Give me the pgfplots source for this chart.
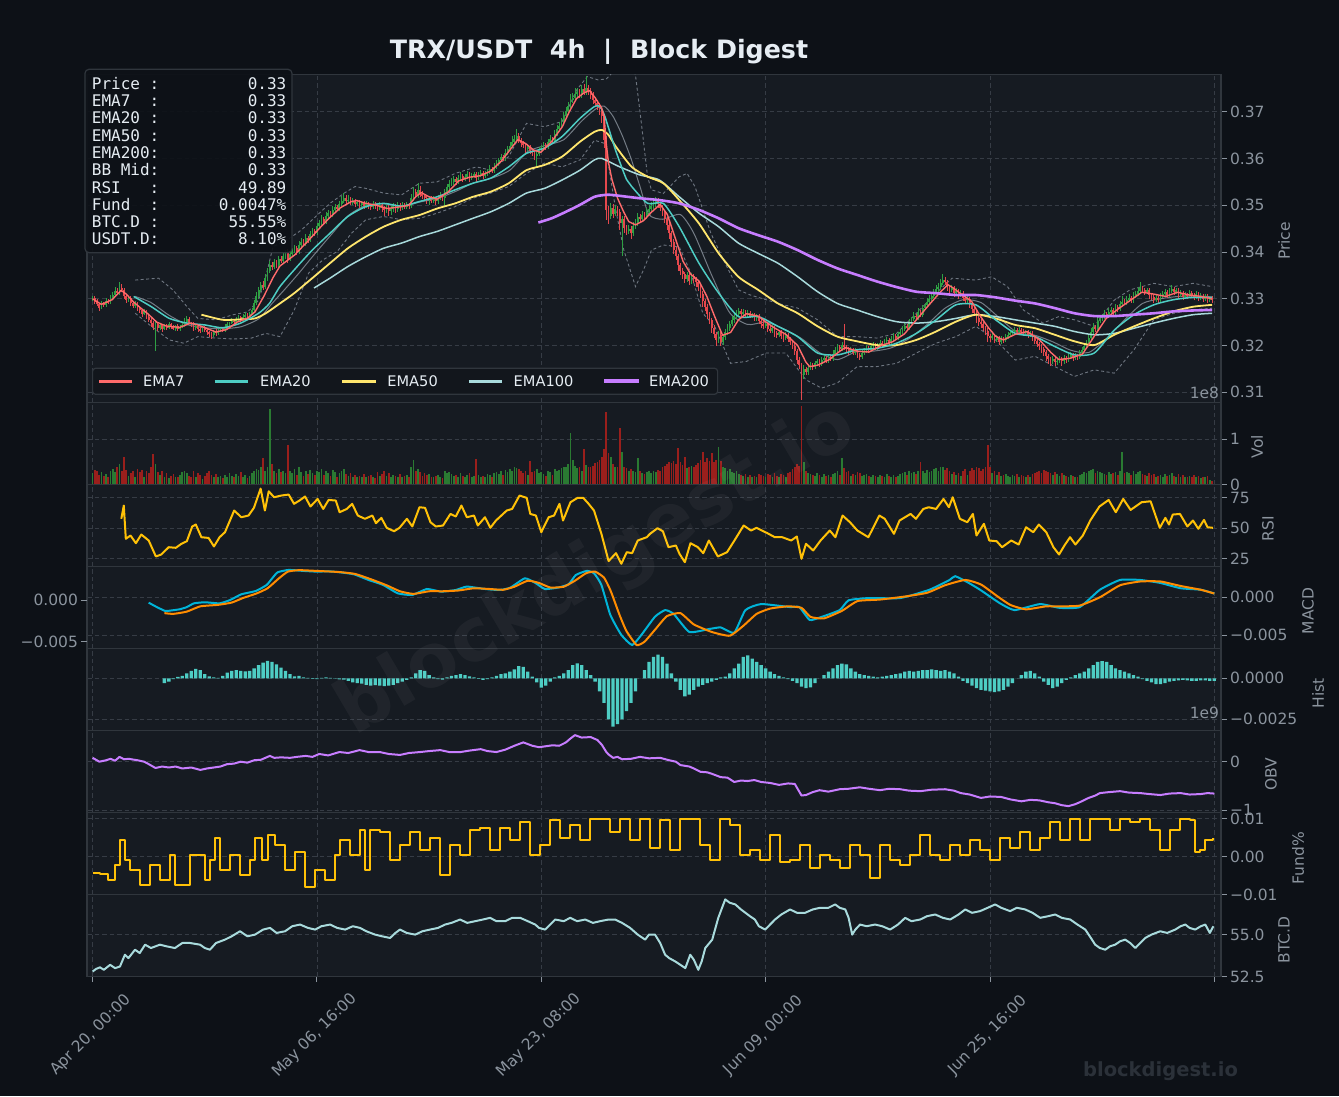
\documentclass[border=0pt]{standalone}
\usepackage{pgfplots}
\usepackage{pgfplotstable}
\pgfplotsset{compat=1.18}
\usepackage{fontspec}
\setmainfont{DejaVu Sans}
\newfontfamily\monofont{DejaVu Sans Mono}
\definecolor{figbg}{HTML}{0D1117}
\definecolor{panelbg}{HTML}{161B22}
\definecolor{spine}{HTML}{30363D}
\definecolor{gridc}{HTML}{363C45}
\definecolor{tickc}{HTML}{8B949E}
\definecolor{titlec}{HTML}{E6EDF3}
\definecolor{ema7}{HTML}{FF6B6B}
\definecolor{ema20}{HTML}{4ECDC4}
\definecolor{ema50}{HTML}{FFE66D}
\definecolor{ema100}{HTML}{A8DADC}
\definecolor{ema200}{HTML}{C77DFF}
\definecolor{bbc}{HTML}{6E7681}
\definecolor{upc}{HTML}{2EA043}
\definecolor{dnc}{HTML}{E5484D}
\definecolor{volup}{HTML}{2A7A32}
\definecolor{voldn}{HTML}{9A1F1C}
\definecolor{rsic}{HTML}{FFC107}
\definecolor{macdc}{HTML}{00B4D8}
\definecolor{sigc}{HTML}{FF8C00}
\definecolor{histc}{HTML}{4ECDC4}
\definecolor{boxbg}{HTML}{0D1117}
\definecolor{legbg}{HTML}{12161C}
\definecolor{brand}{HTML}{2B3139}
\newcommand\tickfont{\fontsize{15.5pt}{18pt}\selectfont}

\pgfplotstableread[row sep=\\]{
c u l v\\
0.3302 3 4 25\\ 0.3294 2 3 32\\ 0.3288 4 2 30\\ 0.3281 2 5 22\\ 0.3290 3 2 28\\
0.3286 2 3 20\\ 0.3296 4 2 24\\ 0.3292 3 2 18\\ 0.3301 5 2 30\\ 0.3308 4 3 35\\
0.3316 6 2 28\\ 0.3312 4 3 38\\ 0.3324 8 2 45\\ 0.3318 5 3 30\\ 0.3305 3 4 61\\
0.3298 3 4 33\\ 0.3302 2 3 20\\ 0.3290 3 4 26\\ 0.3284 2 3 30\\ 0.3290 3 2 18\\
0.3280 2 4 35\\ 0.3275 3 3 28\\ 0.3268 2 4 33\\ 0.3274 3 2 16\\ 0.3262 2 4 30\\
0.3255 3 3 25\\ 0.3248 2 6 40\\ 0.3240 3 5 68\\ 0.3246 4 34 45\\ 0.3238 3 5 28\\
0.3244 3 3 22\\ 0.3236 2 4 30\\ 0.3242 3 2 18\\ 0.3238 2 3 25\\ 0.3245 3 2 14\\
0.3240 2 3 20\\ 0.3236 3 2 24\\ 0.3241 2 3 18\\ 0.3235 3 2 16\\ 0.3240 2 3 22\\
0.3243 3 2 28\\ 0.3250 6 2 30\\ 0.3256 5 3 25\\ 0.3248 3 2 20\\ 0.3245 2 3 18\\
0.3238 3 4 30\\ 0.3242 2 3 16\\ 0.3236 3 4 26\\ 0.3232 2 3 22\\ 0.3238 3 2 12\\
0.3234 2 3 20\\ 0.3228 3 4 25\\ 0.3225 2 4 30\\ 0.3222 3 5 22\\ 0.3230 2 3 18\\
0.3226 3 4 24\\ 0.3232 2 3 16\\ 0.3236 3 2 20\\ 0.3233 2 3 14\\ 0.3240 4 2 22\\
0.3245 3 2 18\\ 0.3248 2 3 25\\ 0.3252 4 2 20\\ 0.3250 3 3 16\\ 0.3256 4 2 24\\
0.3260 3 2 20\\ 0.3255 2 3 28\\ 0.3262 3 2 18\\ 0.3265 4 3 22\\ 0.3260 3 2 15\\
0.3268 3 2 20\\ 0.3275 4 2 26\\ 0.3290 5 3 30\\ 0.3305 6 2 35\\ 0.3318 5 3 32\\
0.3330 4 3 40\\ 0.3325 6 4 58\\ 0.3345 5 3 30\\ 0.3360 4 4 38\\ 0.3372 6 3 166\\
0.3368 4 5 45\\ 0.3378 5 3 30\\ 0.3372 3 4 25\\ 0.3385 5 3 35\\ 0.3380 4 3 28\\
0.3392 5 3 30\\ 0.3398 4 4 25\\ 0.3385 5 6 88\\ 0.3396 4 3 30\\ 0.3402 5 3 26\\
0.3408 4 3 35\\ 0.3400 3 4 22\\ 0.3414 6 3 40\\ 0.3422 5 3 28\\ 0.3418 4 3 20\\
0.3430 5 4 30\\ 0.3426 3 4 24\\ 0.3438 5 3 32\\ 0.3445 4 3 26\\ 0.3440 3 4 22\\
0.3455 5 3 30\\ 0.3462 4 3 28\\ 0.3470 6 3 35\\ 0.3465 3 4 22\\ 0.3478 5 3 30\\
0.3484 4 3 26\\ 0.3480 3 4 20\\ 0.3490 5 3 32\\ 0.3496 4 4 28\\ 0.3492 3 3 18\\
0.3502 5 3 26\\ 0.3510 6 3 30\\ 0.3515 8 4 35\\ 0.3508 5 3 24\\ 0.3512 6 4 20\\
0.3505 4 3 26\\ 0.3509 5 3 18\\ 0.3502 3 4 22\\ 0.3506 4 3 16\\ 0.3500 3 4 20\\
0.3504 3 3 18\\ 0.3498 3 4 24\\ 0.3503 4 3 16\\ 0.3500 3 5 20\\ 0.3496 2 4 22\\
0.3502 4 3 18\\ 0.3499 3 4 15\\ 0.3495 3 5 28\\ 0.3500 4 3 20\\ 0.3494 3 6 24\\
0.3490 3 8 30\\ 0.3495 4 5 20\\ 0.3488 3 8 26\\ 0.3493 4 6 18\\ 0.3498 4 5 22\\
0.3492 3 6 20\\ 0.3500 4 4 16\\ 0.3496 3 5 24\\ 0.3501 4 4 18\\ 0.3497 3 4 20\\
0.3500 4 3 22\\ 0.3498 3 4 18\\ 0.3515 6 3 40\\ 0.3528 8 4 55\\ 0.3522 5 5 30\\
0.3532 10 4 35\\ 0.3525 6 5 28\\ 0.3520 4 4 20\\ 0.3516 3 5 26\\ 0.3512 4 6 22\\
0.3515 3 8 24\\ 0.3510 3 4 18\\ 0.3513 4 3 16\\ 0.3508 3 5 20\\ 0.3516 4 3 22\\
0.3520 5 3 18\\ 0.3515 3 4 15\\ 0.3528 5 12 30\\ 0.3538 5 3 26\\ 0.3545 6 3 28\\
0.3550 5 3 24\\ 0.3556 4 4 20\\ 0.3550 3 4 22\\ 0.3558 5 3 18\\ 0.3563 6 3 26\\
0.3556 3 4 20\\ 0.3561 4 3 16\\ 0.3566 5 3 22\\ 0.3558 3 5 25\\ 0.3562 4 3 18\\
0.3566 4 3 20\\ 0.3558 3 5 56\\ 0.3565 4 3 22\\ 0.3569 4 3 18\\ 0.3563 3 4 20\\
0.3568 4 3 16\\ 0.3572 4 3 24\\ 0.3578 5 3 22\\ 0.3574 3 4 18\\ 0.3582 5 3 26\\
0.3590 4 3 28\\ 0.3596 4 4 24\\ 0.3603 5 3 30\\ 0.3600 3 4 22\\ 0.3612 5 3 32\\
0.3620 5 3 28\\ 0.3626 6 3 35\\ 0.3635 8 3 30\\ 0.3642 6 4 40\\ 0.3648 10 4 36\\
0.3640 4 5 34\\ 0.3632 3 5 30\\ 0.3628 4 4 26\\ 0.3620 3 5 30\\ 0.3625 4 3 22\\
0.3616 3 5 52\\ 0.3612 3 4 28\\ 0.3605 3 6 30\\ 0.3610 4 14 35\\ 0.3618 4 3 26\\
0.3622 4 3 28\\ 0.3628 5 3 24\\ 0.3624 3 4 20\\ 0.3635 5 3 30\\ 0.3642 5 3 28\\
0.3638 3 4 22\\ 0.3652 6 3 34\\ 0.3662 6 3 30\\ 0.3670 5 4 32\\ 0.3678 6 3 36\\
0.3690 6 3 40\\ 0.3702 5 4 38\\ 0.3712 6 3 45\\ 0.3725 8 3 113\\ 0.3730 6 4 55\\
0.3738 8 4 42\\ 0.3742 6 5 36\\ 0.3735 5 4 40\\ 0.3748 6 4 30\\ 0.3742 8 4 78\\
0.3750 17 4 44\\ 0.3744 5 5 40\\ 0.3736 4 6 38\\ 0.3725 4 6 42\\ 0.3718 4 6 47\\
0.3712 5 6 50\\ 0.3705 5 8 55\\ 0.3690 4 10 62\\ 0.3640 4 12 78\\ 0.3490 5 15 160\\
0.3478 5 12 70\\ 0.3495 6 5 62\\ 0.3482 5 6 45\\ 0.3492 6 4 40\\ 0.3486 4 6 38\\
0.3462 4 10 124\\ 0.3470 5 47 71\\ 0.3452 4 8 40\\ 0.3445 4 6 36\\ 0.3450 5 5 30\\
0.3440 4 8 34\\ 0.3455 6 4 30\\ 0.3462 5 4 28\\ 0.3475 6 4 58\\ 0.3470 4 5 30\\
0.3480 5 4 26\\ 0.3476 4 5 24\\ 0.3486 5 4 28\\ 0.3492 5 4 30\\ 0.3498 6 3 26\\
0.3503 6 4 30\\ 0.3510 5 4 28\\ 0.3502 4 5 32\\ 0.3495 3 5 30\\ 0.3485 4 6 40\\
0.3470 3 6 42\\ 0.3458 3 8 45\\ 0.3440 4 8 50\\ 0.3422 3 8 48\\ 0.3405 4 6 52\\
0.3392 4 6 46\\ 0.3372 3 8 80\\ 0.3360 3 6 50\\ 0.3352 4 6 44\\ 0.3342 3 6 60\\
0.3350 5 4 36\\ 0.3338 3 6 40\\ 0.3348 5 4 42\\ 0.3342 4 5 38\\ 0.3335 3 6 44\\
0.3325 3 6 48\\ 0.3310 3 6 55\\ 0.3295 4 8 73\\ 0.3282 3 6 50\\ 0.3268 4 8 58\\
0.3255 3 6 52\\ 0.3238 3 8 69\\ 0.3225 4 6 50\\ 0.3212 3 8 55\\ 0.3222 6 4 84\\
0.3208 4 6 52\\ 0.3218 5 4 40\\ 0.3228 5 4 36\\ 0.3238 5 3 30\\ 0.3246 4 4 34\\
0.3255 5 3 28\\ 0.3262 4 4 26\\ 0.3268 5 3 30\\ 0.3274 4 4 24\\ 0.3268 3 5 22\\
0.3272 4 3 20\\ 0.3266 3 4 24\\ 0.3270 4 3 18\\ 0.3264 3 4 22\\ 0.3266 3 3 16\\
0.3258 3 4 20\\ 0.3262 3 3 18\\ 0.3252 3 4 24\\ 0.3246 3 5 22\\ 0.3242 4 4 20\\
0.3245 4 3 18\\ 0.3236 3 5 24\\ 0.3232 4 4 22\\ 0.3238 4 3 16\\ 0.3226 3 5 26\\
0.3222 3 4 20\\ 0.3228 4 3 18\\ 0.3220 3 4 24\\ 0.3216 3 5 22\\ 0.3222 4 3 16\\
0.3214 3 4 26\\ 0.3208 3 5 28\\ 0.3200 3 5 34\\ 0.3188 3 6 40\\ 0.3170 3 6 45\\
0.3158 3 6 42\\ 0.3138 3 36 173\\ 0.3150 5 6 51\\ 0.3144 3 5 30\\ 0.3152 4 4 26\\
0.3158 4 3 24\\ 0.3154 3 4 22\\ 0.3162 4 3 20\\ 0.3166 4 3 26\\ 0.3160 3 4 22\\
0.3170 4 3 18\\ 0.3174 4 3 24\\ 0.3168 3 4 20\\ 0.3176 4 3 22\\ 0.3172 3 4 18\\
0.3182 5 3 24\\ 0.3190 4 3 26\\ 0.3196 5 3 30\\ 0.3192 3 4 22\\ 0.3201 4 3 58\\
0.3196 30 4 36\\ 0.3193 3 4 28\\ 0.3188 3 5 30\\ 0.3191 4 3 20\\ 0.3185 3 4 24\\
0.3188 4 3 22\\ 0.3180 3 5 28\\ 0.3176 3 5 26\\ 0.3184 4 3 20\\ 0.3188 4 3 22\\
0.3194 5 3 24\\ 0.3190 3 4 20\\ 0.3198 4 3 18\\ 0.3202 4 3 22\\ 0.3196 3 4 20\\
0.3200 4 3 18\\ 0.3206 4 3 22\\ 0.3202 3 4 20\\ 0.3209 4 3 16\\ 0.3212 4 3 24\\
0.3206 3 4 20\\ 0.3215 4 3 18\\ 0.3220 4 3 22\\ 0.3217 3 4 16\\ 0.3224 4 3 20\\
0.3230 4 3 24\\ 0.3236 4 3 26\\ 0.3242 5 3 28\\ 0.3238 3 4 22\\ 0.3250 5 3 30\\
0.3256 4 3 26\\ 0.3264 5 3 28\\ 0.3260 3 4 24\\ 0.3272 5 3 30\\ 0.3266 3 4 51\\
0.3280 5 3 30\\ 0.3286 4 3 26\\ 0.3294 5 3 32\\ 0.3300 5 3 28\\ 0.3306 4 4 30\\
0.3314 5 3 34\\ 0.3320 6 3 36\\ 0.3326 5 4 30\\ 0.3334 6 3 40\\ 0.3340 8 3 38\\
0.3336 5 4 32\\ 0.3325 3 5 36\\ 0.3318 3 4 30\\ 0.3322 5 3 24\\ 0.3312 3 5 28\\
0.3316 4 3 22\\ 0.3308 3 5 26\\ 0.3312 4 3 20\\ 0.3302 3 5 30\\ 0.3296 3 5 34\\
0.3300 4 3 22\\ 0.3288 3 5 30\\ 0.3278 3 6 36\\ 0.3270 3 5 32\\ 0.3258 3 6 40\\
0.3250 3 5 36\\ 0.3245 4 5 30\\ 0.3238 3 5 34\\ 0.3232 3 6 38\\ 0.3220 3 8 88\\
0.3216 3 5 40\\ 0.3220 4 3 26\\ 0.3212 3 5 30\\ 0.3216 4 3 22\\ 0.3208 3 5 28\\
0.3214 4 3 20\\ 0.3212 3 4 22\\ 0.3218 4 3 24\\ 0.3222 4 3 20\\ 0.3226 4 3 18\\
0.3230 4 3 22\\ 0.3234 4 3 20\\ 0.3228 3 4 24\\ 0.3234 4 3 18\\ 0.3230 3 4 22\\
0.3226 3 4 20\\ 0.3228 4 3 16\\ 0.3222 3 4 22\\ 0.3226 4 3 18\\ 0.3218 3 5 24\\
0.3210 3 5 26\\ 0.3204 3 5 28\\ 0.3198 3 5 30\\ 0.3192 3 6 26\\ 0.3186 3 6 32\\
0.3178 3 8 30\\ 0.3172 3 8 28\\ 0.3168 3 8 26\\ 0.3172 4 5 22\\ 0.3165 3 6 28\\
0.3168 4 5 24\\ 0.3172 4 4 20\\ 0.3166 3 6 26\\ 0.3174 4 4 22\\ 0.3170 3 5 20\\
0.3176 4 3 18\\ 0.3180 4 3 22\\ 0.3174 3 5 20\\ 0.3178 4 3 18\\ 0.3175 3 4 16\\
0.3184 4 3 22\\ 0.3190 4 3 24\\ 0.3198 5 3 28\\ 0.3205 5 3 26\\ 0.3216 6 3 30\\
0.3228 6 3 32\\ 0.3240 6 3 34\\ 0.3236 3 4 26\\ 0.3252 6 3 30\\ 0.3258 5 3 28\\
0.3262 4 4 26\\ 0.3268 5 3 24\\ 0.3264 3 4 22\\ 0.3272 5 3 28\\ 0.3276 4 3 24\\
0.3270 3 5 26\\ 0.3282 5 3 28\\ 0.3278 3 4 22\\ 0.3288 5 3 30\\ 0.3294 8 3 72\\
0.3292 4 4 26\\ 0.3298 5 3 28\\ 0.3302 5 3 26\\ 0.3296 3 4 22\\ 0.3306 5 3 30\\
0.3310 5 3 24\\ 0.3316 6 3 28\\ 0.3322 9 3 30\\ 0.3318 4 4 24\\ 0.3314 3 4 22\\
0.3318 4 3 20\\ 0.3308 3 5 26\\ 0.3304 3 4 22\\ 0.3298 3 5 24\\ 0.3302 4 3 18\\
0.3298 3 4 20\\ 0.3306 4 3 22\\ 0.3310 4 3 18\\ 0.3314 5 3 24\\ 0.3308 3 4 20\\
0.3316 5 3 22\\ 0.3320 6 3 26\\ 0.3314 3 4 20\\ 0.3318 4 3 18\\ 0.3308 3 5 24\\
0.3312 4 3 16\\ 0.3304 3 5 22\\ 0.3308 4 3 18\\ 0.3306 3 4 16\\ 0.3312 4 3 20\\
0.3308 3 4 18\\ 0.3304 3 4 22\\ 0.3310 4 3 16\\ 0.3302 3 5 20\\ 0.3306 4 3 14\\
0.3300 3 4 18\\ 0.3305 4 3 16\\ 0.3298 3 5 20\\ 0.3302 3 3 10\\ 0.3297 3 4 8\\
}\candles
\pgfplotstablecreatecol[create col/expr={\pgfplotstablerow}]{x}\candles
\pgfplotstablecreatecol[
  create col/assign first/.code={\getthisrow{c}\myv\pgfkeyslet{/pgfplots/table/create col/next content}\myv},
  create col/assign/.code={\getprevrow{c}\myv\pgfkeyslet{/pgfplots/table/create col/next content}\myv}
]{o}\candles

\pgfplotsset{
  panel/.style={
    scale only axis, width=1134pt, height=82pt, anchor=south west,
    xmin=-2.5, xmax=503,
    axis background/.style={fill=panelbg},
    axis line style={draw=spine, line width=1.1pt},
    xtick={0,100,200,300,400,500}, xticklabels={,,,,,},
    xmajorgrids=true, ymajorgrids=true,
    major grid style={draw=gridc, dash pattern=on 4.5pt off 3pt, line width=0.8pt},
    xtick pos=left, ytick pos=right, yticklabel pos=right,
    tick align=outside, major tick length=5.5pt,
    tick style={draw=tickc, line width=0.9pt},
    x tick style={draw=none},
    yticklabel style={font=\tickfont, text=tickc},
    scaled y ticks=false, scaled x ticks=false,
  },
}

\begin{document}
\begin{tikzpicture}[x=1pt,y=1pt]
\useasboundingbox (0,0) rectangle (1339,1096);
\fill[figbg] (0,0) rectangle (1339,1096);

% ---------------- PRICE ----------------
\begin{axis}[panel, at={(87pt,693.3pt)}, height=328pt, ymin=0.30778, ymax=0.37791,
  ytick={0.31,0.32,0.33,0.34,0.35,0.36,0.37}, yticklabels={0.31,0.32,0.33,0.34,0.35,0.36,0.37}]
% Bollinger bands
\addplot[bbc, line width=0.9pt, dash pattern=on 3pt off 2.5pt] coordinates {
(19,0.3340)(24,0.3342)(29.4,0.3344)(35.8,0.3319)(42.1,0.3283)(46.9,0.3258)(54.9,0.3255)(62.8,0.3266)(69.2,0.3272)(74,0.3297)(77.2,0.3347)(80.4,0.3411)(86.7,0.3426)(93.1,0.3447)(99.5,0.3476)(105.8,0.3504)(112.2,0.3526)(117,0.3540)(121.8,0.3536)(129.7,0.3526)(137.7,0.3522)(145.7,0.3547)(153.6,0.3550)(161.6,0.3568)(171.1,0.3582)(177.5,0.3575)(185.5,0.3604)(193.4,0.3675)(201.4,0.3668)(209.3,0.3679)(215.7,0.3746)(220.5,0.3775)(225.3,0.3768)(229,0.3770)(233,0.3790)(237,0.3820)(240,0.3810)(242,0.3778)(244.5,0.3680)(247.4,0.3560)(249.1,0.3533)(254.4,0.3525)(261.5,0.3561)(265,0.3568)(268.5,0.3540)(275.6,0.3440)(280.8,0.3387)(287.9,0.3319)(293.2,0.3308)(300.2,0.3298)(305.5,0.3290)(314.3,0.3280)(323.2,0.3255)(332,0.3219)(340.8,0.3219)(349.6,0.3216)(358.4,0.3226)(367.2,0.3269)(376,0.3312)(383.1,0.3344)(393.7,0.3340)(400.8,0.3347)(407.8,0.3326)(414.9,0.3276)(423.6,0.3248)(430.7,0.3262)(437.7,0.3255)(446.5,0.3241)(455.4,0.3297)(462.4,0.3319)(473,0.3333)(481.8,0.3326)(490.6,0.3333)(499,0.3326)};
\addplot[bbc, line width=0.9pt, dash pattern=on 3pt off 2.5pt] coordinates {
(19,0.3269)(26.2,0.3241)(34.2,0.3212)(40.6,0.3205)(46.9,0.3219)(54.9,0.3216)(62.8,0.3214)(70.8,0.3216)(77.2,0.3226)(83.5,0.3219)(89.9,0.3276)(96.3,0.3355)(102.6,0.3383)(109,0.3401)(115.4,0.3440)(121.8,0.3469)(129.7,0.3476)(137.7,0.3469)(145.7,0.3472)(153.6,0.3483)(161.6,0.3497)(169.5,0.3515)(177.5,0.3526)(185.5,0.3540)(193.4,0.3568)(201.4,0.3590)(209.3,0.3582)(217.3,0.3597)(223.7,0.3639)(228.4,0.3632)(233.2,0.3490)(236.8,0.3404)(242,0.3326)(245.6,0.3362)(249.1,0.3404)(254.4,0.3415)(261.5,0.3411)(266.7,0.3355)(272,0.3269)(277.3,0.3241)(284.4,0.3162)(291.4,0.3166)(300.2,0.3184)(309,0.3184)(317.9,0.3127)(324.9,0.3109)(332,0.3120)(340.8,0.3155)(349.6,0.3155)(358.4,0.3162)(367.2,0.3184)(376,0.3205)(384.8,0.3219)(393.7,0.3241)(402.5,0.3212)(411.3,0.3169)(420.1,0.3177)(428.9,0.3155)(437.7,0.3134)(446.5,0.3148)(455.4,0.3141)(464.2,0.3191)(473,0.3255)(481.8,0.3269)(490.6,0.3276)(499,0.3280)};
\addplot[tickc, opacity=0.8, line width=1pt, smooth, tension=0.4] coordinates {
(19,0.3305)(26,0.3292)(34,0.3265)(42,0.3245)(50,0.3238)(58,0.3236)(66,0.3240)(74,0.3257)(80,0.3290)(86,0.3322)(92,0.3355)(98,0.3390)(106,0.3435)(114,0.3478)(122,0.3500)(130,0.3503)(138,0.3497)(146,0.3507)(154,0.3515)(162,0.3530)(170,0.3548)(178,0.3558)(186,0.3575)(194,0.3615)(202,0.3628)(210,0.3640)(218,0.3680)(224,0.3705)(228,0.3712)(232,0.3690)(236,0.3650)(240,0.3600)(244,0.3540)(248,0.3480)(254,0.3470)(262,0.3480)(268,0.3440)(276,0.3350)(284,0.3270)(292,0.3245)(300,0.3250)(308,0.3236)(316,0.3215)(324,0.3185)(332,0.3170)(340,0.3186)(348,0.3188)(356,0.3195)(364,0.3215)(372,0.3245)(380,0.3280)(388,0.3298)(396,0.3292)(404,0.3260)(412,0.3228)(420,0.3222)(428,0.3208)(436,0.3190)(444,0.3185)(452,0.3215)(460,0.3255)(468,0.3290)(476,0.3300)(484,0.3305)(492,0.3306)(499,0.3304)};
% candles: wicks
\addplot[draw=none, mark=none, forget plot,
  restrict expr to domain={\thisrow{c}-\thisrow{o}}{0:1},
  error bars/.cd, y dir=both, y explicit, error mark=none,
  error bar style={draw=upc, line width=0.75pt}]
  table[x=x, y=c, y error plus expr={\thisrow{u}*0.00015},
    y error minus expr={\thisrow{c}-\thisrow{o}+\thisrow{l}*0.00015}] {\candles};
\addplot[draw=none, mark=none, forget plot,
  restrict expr to domain={\thisrow{c}-\thisrow{o}}{-1:-0.00001},
  error bars/.cd, y dir=both, y explicit, error mark=none,
  error bar style={draw=dnc, line width=0.75pt}]
  table[x=x, y=c, y error plus expr={\thisrow{o}-\thisrow{c}+\thisrow{u}*0.00015},
    y error minus expr={\thisrow{l}*0.00015}] {\candles};
% candles: bodies
\addplot[draw=none, mark=none, forget plot,
  restrict expr to domain={\thisrow{c}-\thisrow{o}}{0:1},
  error bars/.cd, y dir=both, y explicit, error mark=none,
  error bar style={draw=upc, line width=1.8pt}]
  table[x=x, y=c, y error plus expr={0},
    y error minus expr={\thisrow{c}-\thisrow{o}}] {\candles};
\addplot[draw=none, mark=none, forget plot,
  restrict expr to domain={\thisrow{c}-\thisrow{o}}{-1:-0.00001},
  error bars/.cd, y dir=both, y explicit, error mark=none,
  error bar style={draw=dnc, line width=1.8pt}]
  table[x=x, y=c, y error plus expr={\thisrow{o}-\thisrow{c}},
    y error minus expr={0}] {\candles};
% EMAs
\addplot[ema100, line width=1.5pt, smooth, tension=0.4] coordinates {
(98.7,0.3323)(105.8,0.3344)(113.8,0.3369)(121.8,0.3390)(129.7,0.3408)(137.7,0.3419)(145.7,0.3433)(153.6,0.3444)(161.6,0.3458)(169.5,0.3472)(177.5,0.3486)(185.5,0.3504)(193.4,0.3526)(201.4,0.3536)(209.3,0.3554)(217.3,0.3575)(223.7,0.3597)(227,0.3600)(235,0.3582)(243.8,0.3565)(252.6,0.3554)(261.5,0.3518)(270.3,0.3483)(279.1,0.3454)(287.9,0.3419)(296.7,0.3397)(305.5,0.3376)(314.3,0.3347)(323.2,0.3315)(332,0.3290)(340.8,0.3276)(349.6,0.3262)(358.4,0.3251)(367.2,0.3248)(376,0.3251)(384.8,0.3258)(393.7,0.3266)(402.5,0.3262)(411.3,0.3255)(420.1,0.3248)(428.9,0.3241)(437.7,0.3230)(446.5,0.3223)(455.4,0.3226)(464.2,0.3237)(473,0.3248)(481.8,0.3258)(490.6,0.3266)(499,0.3269)};
\addplot[ema50, line width=1.8pt, smooth, tension=0.4] coordinates {
(48.5,0.3266)(58,0.3255)(66,0.3256)(72.4,0.3258)(77.2,0.3269)(83.5,0.3290)(89.9,0.3312)(97.9,0.3344)(105.8,0.3376)(113.8,0.3408)(121.8,0.3433)(129.7,0.3454)(137.7,0.3469)(145.7,0.3479)(153.6,0.3493)(161.6,0.3504)(169.5,0.3518)(177.5,0.3529)(185.5,0.3547)(193.4,0.3575)(201.4,0.3586)(209.3,0.3604)(217.3,0.3636)(223.7,0.3657)(227,0.3661)(230,0.3650)(233.3,0.3625)(240.3,0.3582)(247.4,0.3561)(254.4,0.3547)(261.5,0.3511)(270.3,0.3461)(279.1,0.3397)(287.9,0.3347)(296.7,0.3319)(305.5,0.3290)(314.3,0.3269)(323.2,0.3241)(332,0.3219)(340.8,0.3209)(349.6,0.3201)(358.4,0.3201)(367.2,0.3212)(376,0.3230)(384.8,0.3251)(393.7,0.3266)(402.5,0.3258)(411.3,0.3244)(420.1,0.3237)(428.9,0.3223)(437.7,0.3209)(446.5,0.3201)(455.4,0.3223)(464.2,0.3241)(473,0.3258)(481.8,0.3273)(490.6,0.3283)(499,0.3287)};
\addplot[ema20, line width=1.5pt, smooth, tension=0.4] coordinates {
(18.3,0.3305)(26.2,0.3283)(34.2,0.3258)(42.1,0.3248)(50.1,0.3244)(58,0.3238)(66,0.3248)(74,0.3269)(78.8,0.3290)(83.5,0.3326)(89.9,0.3362)(97.9,0.3404)(105.8,0.3440)(113.8,0.3476)(121.8,0.3497)(129.7,0.3504)(137.7,0.3498)(145.7,0.3508)(153.6,0.3518)(161.6,0.3533)(169.5,0.3547)(177.5,0.3558)(185.5,0.3582)(193.4,0.3611)(201.4,0.3622)(209.3,0.3647)(217.3,0.3686)(223.7,0.3711)(226.2,0.3711)(228.4,0.3689)(233.3,0.3615)(238,0.3555)(240.3,0.3540)(247.4,0.3504)(254.4,0.3504)(261.5,0.3454)(270.3,0.3376)(279.1,0.3312)(287.9,0.3262)(296.7,0.3262)(305.5,0.3241)(314.3,0.3219)(323.2,0.3184)(332,0.3180)(340.8,0.3191)(349.6,0.3194)(358.4,0.3205)(367.2,0.3226)(376,0.3255)(384.8,0.3287)(393.7,0.3287)(402.5,0.3255)(411.3,0.3226)(420.1,0.3219)(428.9,0.3198)(437.7,0.3180)(446.5,0.3184)(455.4,0.3233)(464.2,0.3266)(473,0.3287)(481.8,0.3298)(490.6,0.3303)(499,0.3303)};
\addplot[ema7, line width=1.4pt, line join=round] coordinates {
(0,0.3300)(3.9,0.3288)(8.7,0.3298)(12.7,0.3318)(15,0.3310)(18.3,0.3293)(21,0.3282)(24.6,0.3268)(28.6,0.3250)(32.6,0.3242)(36,0.3240)(39,0.3239)(43.7,0.3248)(46.9,0.3244)(50.1,0.3238)(54.9,0.3229)(59.7,0.3234)(64.4,0.3250)(69.2,0.3259)(72.4,0.3272)(76.4,0.3306)(80.4,0.3345)(83.5,0.3370)(89.9,0.3393)(96.3,0.3425)(101,0.3450)(105.8,0.3474)(110.6,0.3495)(115.4,0.3508)(117.8,0.3510)(121.8,0.3504)(126.5,0.3500)(131.3,0.3493)(137.7,0.3497)(141,0.3500)(144,0.3518)(146.5,0.3527)(150,0.3518)(153.6,0.3513)(158.4,0.3528)(163.2,0.3552)(168,0.3560)(172.7,0.3563)(177.5,0.3573)(182.3,0.3595)(187.1,0.3625)(189.5,0.3640)(193,0.3632)(196.6,0.3618)(199.8,0.3613)(204.6,0.3636)(209.4,0.3668)(212.5,0.3700)(215.7,0.3728)(218.9,0.3740)(221.5,0.3745)(224,0.3730)(226.9,0.3708)(228,0.3690)(229,0.3630)(230,0.3590)(231.5,0.3555)(234,0.3515)(236.8,0.3485)(239,0.3465)(242,0.3458)(245.6,0.3467)(249.1,0.3485)(253,0.3502)(256.2,0.3480)(259.7,0.3430)(263.2,0.3380)(266.7,0.3352)(270.3,0.3338)(273.8,0.3305)(277.3,0.3262)(280.8,0.3222)(284.4,0.3228)(287.9,0.3255)(291.4,0.3268)(296.7,0.3263)(300.2,0.3250)(303.8,0.3238)(309,0.3224)(314.3,0.3200)(317.9,0.3165)(319.6,0.3155)(323.2,0.3158)(328.4,0.3170)(332,0.3184)(335.5,0.3196)(340.8,0.3188)(346.1,0.3186)(351.4,0.3200)(356.6,0.3208)(361.9,0.3225)(367.2,0.3255)(372.5,0.3285)(377.8,0.3314)(381.3,0.3330)(384,0.3322)(386.6,0.3312)(391.9,0.3294)(395.4,0.3265)(399,0.3240)(402.5,0.3220)(406,0.3212)(411.3,0.3224)(416.6,0.3230)(421.9,0.3213)(427.2,0.3185)(430.7,0.3170)(436,0.3173)(441.3,0.3182)(446.5,0.3220)(451.8,0.3258)(457.1,0.3278)(462.4,0.3296)(467.7,0.3314)(473,0.3310)(478.3,0.3305)(483.6,0.3314)(488.8,0.3308)(494.1,0.3305)(499,0.3300)};
\addplot[ema200, line width=2.6pt, smooth, tension=0.4] coordinates {
(198.7,0.3463)(204.6,0.3472)(211,0.3486)(217.3,0.3501)(223.7,0.3518)(228.4,0.3522)(231.5,0.3522)(243.8,0.3515)(252.6,0.3511)(261.5,0.3504)(270.3,0.3490)(279.1,0.3472)(287.9,0.3451)(296.7,0.3436)(305.5,0.3422)(314.3,0.3404)(323.2,0.3383)(332,0.3365)(340.8,0.3351)(349.6,0.3337)(358.4,0.3325)(367.2,0.3315)(376,0.3312)(384.8,0.3308)(393.7,0.3308)(402.5,0.3303)(411.3,0.3296)(420.1,0.3290)(428.9,0.3280)(437.7,0.3269)(446.5,0.3263)(455.4,0.3263)(464.2,0.3266)(473,0.3269)(481.8,0.3273)(490.6,0.3275)(499,0.3276)};
\end{axis}

% ---------------- VOLUME ----------------
\begin{axis}[panel, at={(87pt,611.3pt)}, ymin=0, ymax=180.6, ytick={0,100}, yticklabels={0,1}]
\addplot[ycomb, draw=volup, line width=1.7pt, mark=none,
  restrict expr to domain={\thisrow{c}-\thisrow{o}}{0:1}] table[x=x, y=v] {\candles};
\addplot[ycomb, draw=voldn, line width=1.7pt, mark=none,
  restrict expr to domain={\thisrow{c}-\thisrow{o}}{-1:-0.00001}] table[x=x, y=v] {\candles};
\end{axis}

% ---------------- RSI ----------------
\begin{axis}[panel, at={(87pt,529.3pt)}, ymin=18.4, ymax=85.7, ytick={25,50,75}, yticklabels={25,50,75}]
\addplot[rsic, line width=2pt, line join=round] coordinates {
(12.8,57.7)(13.9,68.6)(14.8,41.3)(16.9,44)(19.3,37.7)(21.7,44.8)(25,39.9)(28.2,26.8)(30.6,28.4)(33.9,34.4)(37.1,33.9)(39.6,37.2)(42,39.3)(44.4,51.4)(46,53)(48.5,42.6)(51.7,42)(54.1,35)(56.6,42.6)(59,46.7)(60.6,53.6)(63.1,64.5)(66.3,59)(69.5,60.4)(71.9,66.7)(74.9,82.5)(76.8,64.5)(78.5,80.3)(80.9,75.4)(84.1,76.8)(87.4,77.6)(89.8,70)(92.2,72.7)(94.7,76)(97.1,67.8)(100.3,74)(102.8,65.8)(105.2,73.2)(108.4,72.7)(110.1,63.1)(113.3,65.8)(115.7,70)(118.2,60.4)(121.4,57.7)(124.7,60.4)(126.3,54.1)(128.7,58.5)(131.1,50.3)(134.4,47.5)(136.8,50.3)(140.1,57.7)(142.5,51.4)(145.7,67.2)(148.2,66.7)(150.6,54.9)(153,51.4)(156.2,52.2)(159.5,61.7)(161.9,59.6)(164.4,68.6)(166.8,59)(170,60.4)(171.7,52.2)(174.9,59)(177.3,50.3)(179.8,56.3)(182.2,60.4)(184.6,64.5)(187,65.8)(190.3,76.8)(193.5,74.9)(195.1,61.7)(197.6,60.4)(200,46.7)(203.3,59)(205.7,60.4)(208.1,70)(209.7,56.3)(213,71.3)(216.2,74.9)(218.7,74.9)(221.1,70)(223.5,64.5)(226.8,45.4)(230,23)(233.3,29.5)(235.7,20.8)(238.1,30.3)(240.5,29.5)(243,39.9)(247,42.6)(248.5,45.4)(251.8,50)(254.2,47.5)(256.7,34.4)(260,35.8)(261.6,29)(264,22.1)(266.5,37.7)(269.8,34.4)(272.2,29.5)(274.7,39.9)(278.7,26.8)(282.8,30.3)(286.1,39.9)(290.2,52.2)(293.5,48.1)(295.9,50.3)(300.8,45.9)(304.1,42.6)(307.4,42.6)(311.4,39.9)(313.9,43.2)(316,24.9)(318,37.2)(321.2,31.7)(324.5,39.9)(328.6,48.1)(331.1,42.6)(334.3,60.4)(337.6,54.9)(340.9,48.1)(345.8,42.6)(350.7,60.4)(353.1,57.7)(357.2,45.4)(359.7,56.3)(364.6,61.7)(367,57.7)(370.3,65.8)(372.7,67.2)(376,65.8)(379.3,74)(381.7,67.2)(383.4,75.4)(386.6,57.7)(389.9,54.9)(392.4,61.7)(394,44)(397.3,53.6)(399.7,39.9)(403,39.3)(405.4,34.4)(409.5,39.9)(412.8,36.6)(416.1,50.8)(419.3,46.7)(421.8,53)(425.1,46.7)(428.3,34.4)(430.8,28.4)(433.2,35.8)(435.7,42.6)(438.1,36.6)(441.4,44)(444.7,56.3)(448.8,67.8)(452.9,73.2)(456.1,63.1)(459.4,74)(462.7,65)(467.6,71.3)(471.6,72.1)(475.7,50.3)(478.2,58.5)(479.8,53)(481.5,61.2)(484.7,61.7)(488,51.4)(490.5,56.3)(492.9,49.5)(495.4,56.8)(497,50.8)(499.4,50.3)};
\end{axis}

% ---------------- MACD ----------------
\begin{axis}[panel, at={(87pt,447.3pt)}, ymin=-6.82, ymax=4.06, ytick={-5,0}, yticklabels={−0.005,0.000}]
\addplot[macdc, line width=2pt, smooth, tension=0.3] coordinates {
(25,-0.71)(28,-1.2)(32.3,-1.81)(35,-1.75)(38.8,-1.59)(42,-1.3)(45.2,-0.8)(50.1,-0.66)(56.6,-0.8)(61.4,-0.35)(66.3,0.4)(72.8,0.84)(77.6,1.64)(80,2.5)(82.5,3.32)(87.4,3.63)(93.9,3.5)(100.3,3.4)(105,3.45)(110.1,3.32)(116.5,3.05)(123,2.3)(129.5,1.64)(136,0.53)(142.5,0.31)(149,1.1)(155.4,0.75)(161.9,0.97)(166.8,1.42)(174.9,1.1)(181.4,0.97)(186.2,1.28)(192.7,2.52)(197.6,1.86)(201.6,1.1)(207.3,1.28)(212.2,1.73)(215.4,2.96)(220.3,3.5)(223.5,3.19)(226.8,1.64)(230.8,-2.35)(235.7,-5.0)(240.5,-6.33)(244.6,-5.0)(250.7,-2.57)(255.2,-1.7)(259,-2.2)(266,-4.6)(275,-4.2)(280,-4.0)(286,-4.7)(291,-1.7)(298,-0.9)(311,-1.3)(315,-1.3)(319.6,-3.0)(324,-2.7)(333,-1.7)(337,-0.4)(346,-0.1)(360,-0.1)(373,1.0)(382,2.3)(384.5,2.8)(390,2.0)(395.6,1.0)(404.5,-0.8)(411,-1.7)(422.3,-0.9)(431,-1.4)(440,-1.3)(449,1.0)(458,2.3)(467,2.3)(476,1.9)(485,1.2)(494,1.0)(500,0.5)};
\addplot[sigc, line width=2pt, smooth, tension=0.3] coordinates {
(32,-2.1)(36,-2.2)(42,-1.9)(48,-1.2)(56,-1.0)(62,-0.7)(67,-0.1)(73,0.5)(78,1.2)(83,2.5)(87,3.4)(92,3.6)(100,3.5)(110,3.35)(117,3.1)(124,2.4)(131,1.6)(137,0.8)(143,0.45)(150,0.8)(156,0.8)(163,0.9)(170,1.2)(177,1.1)(183,1.0)(188,1.4)(194,2.2)(199,1.9)(204,1.3)(210,1.4)(215,2.2)(220,3.2)(224,3.4)(228,2.6)(231,0.8)(234.9,-2.35)(238,-4.5)(242.5,-6.33)(246,-5.9)(250.7,-4.3)(256,-2.5)(262,-2.1)(268,-3.6)(276,-4.6)(284,-5.1)(290,-3.8)(296,-2.2)(302,-1.5)(310,-1.2)(316,-1.4)(320,-2.6)(326,-2.8)(334,-1.8)(341,-0.5)(351,-0.3)(362,0.1)(372,0.6)(380,1.6)(389,2.3)(396,1.7)(403,0.2)(409,-1.0)(416,-1.6)(425,-1.2)(432,-1.2)(440,-1.1)(449,0.0)(458,1.6)(467,2.1)(476,2.1)(485,1.5)(494,1.0)(500,0.5)};
\end{axis}
\begin{axis}[scale only axis, width=1134pt, height=82pt, anchor=south west, at={(87pt,447.3pt)},
  xmin=-2.5, xmax=503, ymin=-5.84, ymax=3.99, hide x axis, axis y line*=left,
  axis line style={draw=none}, ytick={-5,0}, yticklabels={−0.005,0.000},
  tick align=outside, major tick length=5.5pt, tick style={draw=tickc, line width=0.9pt},
  yticklabel style={font=\tickfont, text=tickc}, scaled y ticks=false]
\addplot[draw=none] coordinates {(0,0)};
\end{axis}

% ---------------- HIST ----------------
\begin{axis}[panel, at={(87pt,365.3pt)}, ymin=-31.95, ymax=18.05, ytick={-25,0}, yticklabels={−0.0025,0.0000}]
\addplot[ybar, bar width=3.3pt, fill=histc, draw=none] coordinates {
(32,-3)(34,-2)(36,-0.5)(38,0.8)(40,1.5)(42,3)(44,4.5)(46,5.7)(48,5)(50,2.5)(52,1.2)(54,0.5)(56,0.3)(58,1.5)(60,3.5)(62,4.5)(64,5)(66,4.5)(68,4.2)(70,4.5)(72,6)(74,8)(76,9.5)(78,10.6)(80,10)(82,8.5)(84,6.5)(86,4.5)(88,2.5)(90,1.2)(92,1.5)(94,0.5)(96,0.2)(98,-0.3)(100,-0.5)(102,0.3)(104,0.5)(106,0.2)(108,-0.2)(110,-0.6)(112,-0.8)(114,-1.5)(116,-2.5)(118,-3)(120,-3.2)(122,-4)(124,-4.5)(126,-4.2)(128,-4.5)(130,-4.8)(132,-4.5)(134,-4)(136,-3)(138,-2)(140,-1)(142,0.5)(144,3)(146,5)(148,4.5)(150,2)(152,0.5)(154,-0.5)(156,-0.8)(158,0.5)(160,1.5)(162,2)(164,2.5)(166,2)(168,1.2)(170,0.5)(172,-0.3)(174,-1)(176,-0.5)(178,0.5)(180,1.5)(182,2.5)(184,3)(186,4)(188,5.5)(190,7.5)(192,7)(194,4)(196,1)(198,-2.5)(200,-5.7)(202,-4.5)(204,-2)(206,0.5)(208,1.5)(210,3)(212,5)(214,8)(216,9.1)(218,8)(220,5)(222,2)(224,-2)(226,-8)(228,-15)(230,-25)(232,-29.5)(234,-28)(236,-25)(238,-20)(240,-15)(242,-8)(244,0)(246,5)(248,10)(250,13)(252,14.5)(254,13)(256,9)(258,3)(260,-2)(262,-7)(264,-11)(266,-10)(268,-7)(270,-5)(272,-4)(274,-3)(276,-2)(278,-1)(280,0.5)(282,1)(284,3)(286,6)(288,9)(290,13)(292,14)(294,12)(296,10)(298,8)(300,6)(302,4)(304,2.5)(306,1.5)(308,0.5)(310,-0.5)(312,-1.5)(314,-3)(316,-5)(318,-6)(320,-5.5)(322,-3)(324,0)(326,2)(328,4)(330,6)(332,8)(334,9)(336,8.5)(338,6)(340,4)(342,2.5)(344,2)(346,1.5)(348,1)(350,0.5)(352,1)(354,1.5)(356,2)(358,2.5)(360,3)(362,4)(364,4.5)(366,4)(368,4.5)(370,5)(372,5)(374,5.5)(376,5)(378,4.5)(380,5)(382,4)(384,3)(386,1)(388,-1.5)(390,-3)(392,-4.5)(394,-6)(396,-7)(398,-7.5)(400,-8)(402,-8.5)(404,-8)(406,-7)(408,-5)(410,-3)(412,0)(414,2)(416,4)(418,4.5)(420,3)(422,1)(424,-2)(426,-4)(428,-6)(430,-5)(432,-3)(434,-1)(436,0.5)(438,2)(440,3)(442,4)(444,6)(446,8)(448,10)(450,10.5)(452,10)(454,8)(456,6)(458,5)(460,4)(462,3)(464,2)(466,1)(468,-0.5)(470,-1.5)(472,-2.5)(474,-3.5)(476,-3.5)(478,-3)(480,-2)(482,-1.5)(484,-1.2)(486,-1)(488,-1.2)(490,-1.5)(492,-1.5)(494,-1.2)(496,-1.2)(498,-1.5)(500,-1.5)};
\end{axis}

% ---------------- OBV ----------------
\begin{axis}[panel, at={(87pt,283.3pt)}, ymin=-1.056, ymax=0.642, ytick={-1,0}, yticklabels={−1,0}]
\addplot[ema200, line width=2pt, line join=round] coordinates {
(0,0.08)(3,0.0)(6,0.03)(8,0.06)(10,0.02)(12,0.1)(14,0.05)(16,0.06)(20,0.03)(23,0.0)(25,-0.05)(28,-0.13)(31,-0.1)(34,-0.12)(37,-0.1)(40,-0.14)(44,-0.12)(48,-0.17)(51,-0.14)(54,-0.12)(57,-0.1)(60,-0.05)(63,-0.04)(66,0.0)(69,-0.02)(72,0.03)(75,0.04)(79,0.12)(81,0.08)(84,0.09)(88,0.08)(91,0.1)(95,0.12)(98,0.1)(101,0.16)(105,0.13)(110,0.2)(114,0.18)(119,0.24)(123,0.2)(128,0.2)(132,0.16)(137,0.14)(141,0.18)(146,0.2)(150,0.22)(155,0.24)(159,0.2)(164,0.2)(168,0.23)(173,0.26)(176,0.22)(180,0.2)(184,0.25)(188,0.33)(192,0.4)(196,0.33)(199,0.3)(202,0.32)(205,0.34)(208,0.33)(211,0.4)(213,0.48)(215,0.55)(218,0.5)(222,0.51)(225,0.45)(227,0.35)(229,0.2)(230,0.15)(232,0.08)(234,0.1)(236,0.05)(240,0.06)(244,0.1)(248,0.07)(253,0.08)(257,0.03)(260,0.0)(262,-0.07)(266,-0.1)(268,-0.14)(271,-0.21)(274,-0.22)(276,-0.25)(280,-0.32)(283,-0.33)(286,-0.42)(289,-0.39)(292,-0.4)(295,-0.38)(298,-0.42)(302,-0.44)(306,-0.48)(310,-0.45)(313,-0.46)(316,-0.7)(318,-0.69)(321,-0.63)(324,-0.59)(328,-0.62)(333,-0.57)(337,-0.56)(342,-0.53)(346,-0.56)(351,-0.59)(355,-0.56)(360,-0.57)(364,-0.6)(369,-0.61)(374,-0.58)(380,-0.57)(384,-0.6)(387,-0.65)(391,-0.68)(396,-0.75)(400,-0.72)(405,-0.73)(409,-0.78)(414,-0.82)(418,-0.79)(422,-0.8)(426,-0.84)(429,-0.86)(432,-0.9)(435,-0.92)(438,-0.88)(440,-0.84)(444,-0.75)(447,-0.7)(449,-0.65)(453,-0.63)(458,-0.61)(462,-0.64)(467,-0.65)(471,-0.67)(476,-0.69)(480,-0.66)(485,-0.65)(489,-0.68)(494,-0.67)(497,-0.65)(500,-0.66)};
\end{axis}

% ---------------- FUNDING ----------------
\begin{axis}[panel, at={(87pt,201.3pt)}, ymin=-10.02, ymax=11.57, ytick={-10,0,10}, yticklabels={−0.01,0.00,0.01}]
\addplot[rsic, line width=2pt, line join=round, const plot] coordinates {
(0,-4.2)(3.3,-4.5)(6.9,-6.1)(10,-2.2)(12.2,4.3)(14.4,-0.9)(16.7,-3.5)(21.1,-7.4)(25.6,-2.2)(30,-6.1)(34.5,0.4)(36.7,-7.4)(43.4,0.4)(47.9,0.4)(50.1,-6.1)(52.3,-0.9)(54.6,4.9)(56.8,-3.5)(61.3,0.4)(65.7,-4.8)(70.2,-0.9)(72.4,4.9)(75.5,-0.9)(78.2,5.7)(81.3,3.0)(85.8,-3.5)(90.2,1.2)(94.7,-8.1)(99.2,-3.5)(103.6,-6.1)(108.1,0.4)(110.3,4.3)(114.8,0.4)(119.2,7)(121.5,-3.5)(123.7,7)(128.1,6.4)(132.6,-0.9)(137,3)(141.5,6.4)(146,1.7)(150.4,4.9)(154.9,-4.8)(159.4,3)(163.8,0.4)(168.3,7)(172.7,7.5)(177.2,1.7)(181.7,7.5)(186.1,4.3)(190.6,9)(195,0.4)(199.5,3)(204,9.6)(208.4,4.9)(212.9,8.3)(217.3,4.3)(221.8,10)(226.2,10)(230.7,6.4)(235.1,10)(239.6,4.3)(244.1,10)(248.5,2.3)(253,9.6)(257.4,1.7)(261.9,10)(266.3,10)(270.8,3)(275.3,-0.9)(279.7,10)(284.2,8.3)(288.6,0.4)(293.1,1.7)(297.6,-0.9)(302,5.7)(306.5,-1.4)(310.9,-0.9)(315.4,3)(319.8,-2.9)(324.3,0.4)(328.8,-0.9)(333.2,-2.9)(337.7,3)(342.1,0.4)(346.6,-5.5)(351.1,3)(355.5,-0.9)(360,-2.2)(364.4,0.4)(368.9,5.7)(373.4,0.4)(377.8,-0.9)(382.3,3)(386.7,0.4)(391.2,4.3)(395.6,1.7)(400.1,-0.9)(404.5,4.9)(409,2.3)(413.5,6.4)(417.9,1.7)(422.4,4.9)(426.9,9)(431.3,4.3)(435.8,10)(440.2,4.3)(444.7,10)(449.1,10)(453.6,7)(458.1,10)(462.5,9)(467,10)(471.4,7)(475.9,1.7)(480.3,7)(484.8,10)(489.3,9.6)(491.5,1.2)(493.7,1.7)(496,4.3)(499.6,4.9)};
\end{axis}

% ---------------- BTC.D ----------------
\begin{axis}[panel, at={(87pt,119.3pt)}, ymin=52.49, ymax=57.38, ytick={52.5,55}, yticklabels={52.5,55.0},
  x tick style={draw=tickc, line width=0.9pt}]
\addplot[ema100, line width=2pt, line join=round] coordinates {
(0,52.8)(1.5,52.95)(3.3,53.05)(5,52.9)(7.8,53.2)(10,53.0)(12.2,53.1)(14.4,53.8)(16,53.6)(18.9,54.1)(21,53.9)(23.4,54.4)(26,54.2)(30,54.4)(33,54.3)(36.7,54.2)(40,54.5)(43.4,54.5)(47.9,54.4)(50,54.2)(52.3,54.1)(55,54.5)(59,54.7)(62,54.9)(65.7,55.2)(69,54.9)(72.4,55.0)(76,55.3)(79.1,55.4)(82,55.1)(85.8,55.2)(89,55.5)(92.5,55.6)(96,55.4)(99.2,55.3)(102,55.5)(105.9,55.6)(109,55.4)(112.6,55.3)(116,55.5)(119.2,55.4)(122,55.2)(125.9,55.0)(129,54.9)(132.6,54.8)(135,55.1)(137,55.3)(140,55.1)(143.8,55.0)(147,55.2)(150.4,55.3)(154,55.4)(157.1,55.6)(160,55.7)(163.8,55.9)(167,55.7)(170.5,55.8)(174,55.9)(177.2,56.0)(180,55.8)(183.9,55.8)(187,56.0)(190.6,56.0)(194,55.8)(197.3,55.6)(199,55.4)(201.7,55.3)(204,55.6)(206.2,55.9)(210,55.8)(212.9,56.0)(216,55.8)(219.6,55.9)(223,55.7)(226.2,55.8)(230,55.9)(232.9,55.9)(236,55.7)(239.6,55.4)(243,55.0)(246.3,54.7)(248,55.0)(250.7,55.0)(253,54.5)(255.2,53.8)(257,53.6)(259.7,53.4)(262,53.2)(264.2,53.0)(266.4,53.8)(268,53.5)(270,52.9)(271.5,53.4)(273.1,54.2)(276.2,54.7)(278.9,56.0)(282,57.1)(284,56.9)(286.5,56.8)(289,56.5)(291,56.3)(293,56.1)(295.2,55.9)(297,55.5)(299.8,55.3)(302,55.6)(304.2,55.9)(307,56.2)(310.9,56.5)(314,56.3)(317.6,56.3)(321,56.5)(324.3,56.6)(328,56.6)(331,56.8)(333,56.6)(335.5,56.5)(337,56.0)(338.6,55.0)(340,55.3)(342.1,55.6)(345,55.5)(348.8,55.6)(352,55.5)(355.5,55.3)(359,55.6)(362.2,56.0)(365,55.8)(368.9,55.9)(372,56.1)(375.6,56.2)(379,56.0)(382.3,55.9)(386,56.2)(389,56.5)(392,56.3)(395.6,56.4)(399,56.6)(402.3,56.8)(405,56.6)(409,56.4)(412,56.6)(415.7,56.5)(419,56.3)(422.4,56.0)(426,56.1)(429.1,56.2)(432,56.0)(435.8,55.9)(439,55.6)(442.5,55.3)(445,54.8)(446.9,54.4)(449,54.2)(451.4,54.1)(453.5,54.3)(455.8,54.4)(458,54.6)(460.3,54.7)(462.5,54.5)(464.8,54.2)(467,54.5)(469.2,54.8)(472,55.0)(475.9,55.2)(479,55.1)(482.6,55.3)(485,55.5)(487.1,55.6)(489,55.4)(491.5,55.3)(494,55.5)(496,55.6)(498,55.1)(499.6,55.5)};
\end{axis}

% ---------------- texts ----------------
\node[font=\fontsize{25.3pt}{30pt}\selectfont\bfseries, text=titlec] at (599,1044) {TRX/USDT\ \ 4h\ \ |\ \ Block Digest};

% y labels
\begin{scope}[every node/.style={rotate=90, font=\tickfont, text=tickc}]
\node at (1284,855) {Price};
\node at (1257,649.5) {Vol};
\node at (1268,567) {RSI};
\node at (1308,485) {MACD};
\node at (1318,403) {Hist};
\node at (1271,322) {OBV};
\node at (1298,238) {Fund\%};
\node at (1284,156) {BTC.D};
\end{scope}
\node[anchor=east, font=\tickfont, text=tickc, inner sep=0pt] at (1219.3,703.5) {1e8};
\node[anchor=east, font=\tickfont, text=tickc, inner sep=0pt] at (1219.3,383.5) {1e9};

% x tick labels
\begin{scope}[every node/.style={rotate=45, font=\tickfont, text=tickc}]
\node at (90.6,60.5) {Apr 20, 00:00};
\node at (314.9,60.5) {May 06, 16:00};
\node at (539.2,60.5) {May 23, 08:00};
\node at (763.5,60.5) {Jun 09, 00:00};
\node at (987.8,60.5) {Jun 25, 16:00};
\end{scope}

% info box
\draw[draw=spine, line width=1.2pt, fill=boxbg, fill opacity=0.92, rounded corners=4pt] (85,1026.7) rectangle (292,843.3);
\begin{scope}[every node/.style={font=\monofont\fontsize{16pt}{17pt}\selectfont, text=titlec, inner sep=0pt}]
\node[anchor=base west] at (91.7,1006.6) {Price\ :};   \node[anchor=base east] at (286.5,1006.6) {0.33};
\node[anchor=base west] at (91.7,989.3) {EMA7\ \ :};   \node[anchor=base east] at (286.5,989.3) {0.33};
\node[anchor=base west] at (91.7,972.0) {EMA20\ :};    \node[anchor=base east] at (286.5,972.0) {0.33};
\node[anchor=base west] at (91.7,954.7) {EMA50\ :};    \node[anchor=base east] at (286.5,954.7) {0.33};
\node[anchor=base west] at (91.7,937.4) {EMA200:};     \node[anchor=base east] at (286.5,937.4) {0.33};
\node[anchor=base west] at (91.7,920.2) {BB\ Mid:};    \node[anchor=base east] at (286.5,920.2) {0.33};
\node[anchor=base west] at (91.7,902.9) {RSI\ \ \ :};  \node[anchor=base east] at (286.5,902.9) {49.89};
\node[anchor=base west] at (91.7,885.6) {Fund\ \ :};   \node[anchor=base east] at (286.5,885.6) {0.0047\%};
\node[anchor=base west] at (91.7,868.3) {BTC.D\ :};    \node[anchor=base east] at (286.5,868.3) {55.55\%};
\node[anchor=base west] at (91.7,851.0) {USDT.D:};     \node[anchor=base east] at (286.5,851.0) {8.10\%};
\end{scope}

% legend
\draw[draw=spine, line width=1.2pt, fill=legbg, rounded corners=3pt] (92.6,727.7) rectangle (717.6,701.7);
\draw[ema7, line width=2.7pt] (99,714.7) -- (131.8,714.7);
\draw[ema20, line width=2.7pt] (214.7,714.7) -- (248.4,714.7);
\draw[ema50, line width=2.7pt] (341.8,714.7) -- (375.5,714.7);
\draw[ema100, line width=2.7pt] (468.9,714.7) -- (501.7,714.7);
\draw[ema200, line width=3.6pt] (604,714.7) -- (638.5,714.7);
\begin{scope}[every node/.style={anchor=base west, font=\fontsize{14.6pt}{17pt}\selectfont, text=titlec, inner sep=0pt}]
\node at (143,709.3) {EMA7};
\node at (260,709.3) {EMA20};
\node at (387.2,709.3) {EMA50};
\node at (513.5,709.3) {EMA100};
\node at (649,709.3) {EMA200};
\end{scope}

% watermarks
\node[rotate=30.5, text=white, opacity=0.045, font=\fontsize{74pt}{80pt}\selectfont\bfseries] at (597,526) {blockdigest.io};
\node[text=brand, font=\fontsize{19.5pt}{22pt}\selectfont\bfseries] at (1160.5,25) {blockdigest.io};
\end{tikzpicture}
\end{document}
